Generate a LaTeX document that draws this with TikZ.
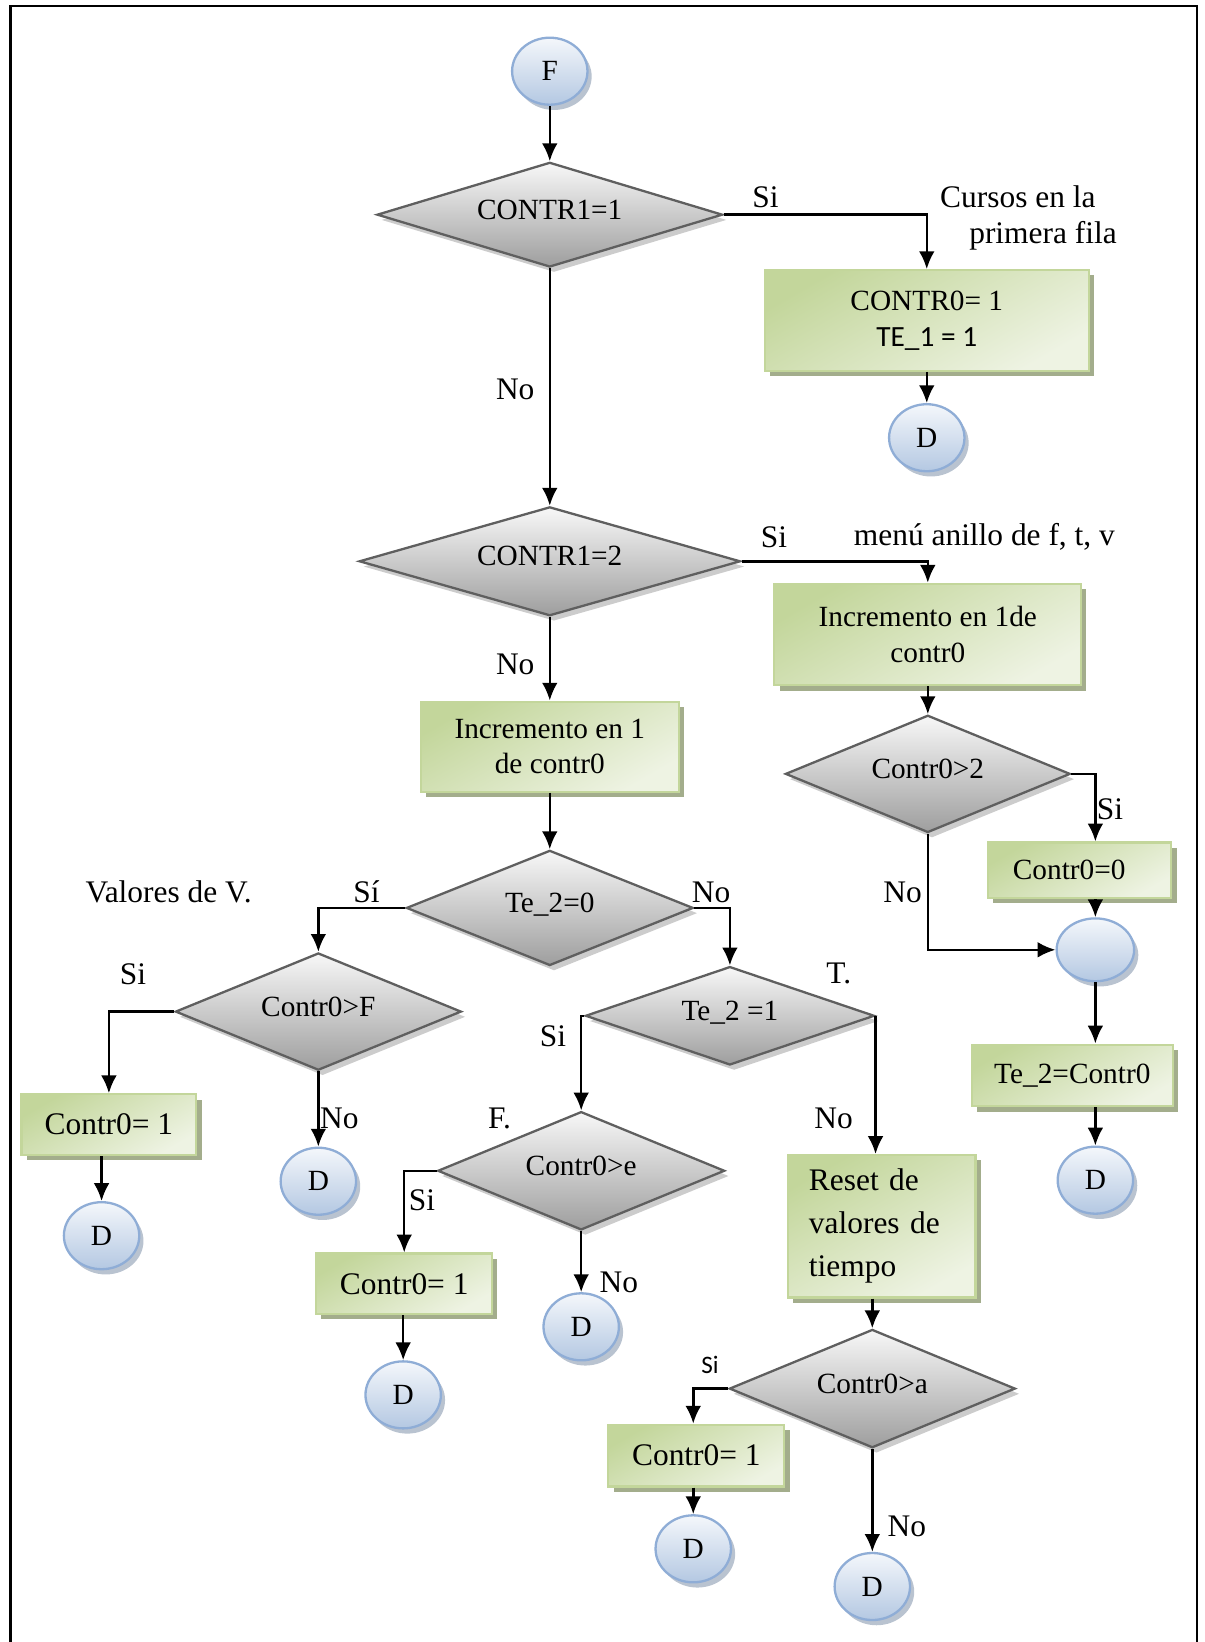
\documentclass[tikz,border=0pt]{standalone}
\usepackage{fontspec}
\setmainfont{Liberation Serif}
\newfontfamily\calib{Carlito}
\usetikzlibrary{shapes.geometric,shadows,arrows.meta}
\definecolor{rombo}{HTML}{5F5F5F}
\definecolor{verde}{HTML}{C3D69B}
\definecolor{verdeclaro}{HTML}{EEF3E3}
\definecolor{sombraverde}{HTML}{A3AD8C}
\definecolor{azul}{HTML}{B4C8E2}
\definecolor{azulclaro}{HTML}{F4F7FB}
\definecolor{azulborde}{HTML}{8FADD6}
\tikzset{
  decision/.style={diamond, draw=rombo, line width=1.1pt, top color=black!3, bottom color=black!38,
    inner sep=0pt, aspect=3, text depth=5pt, font=\fontsize{14}{16}\selectfont,
    drop shadow={shadow xshift=2pt, shadow yshift=-2.5pt, fill=black!25, opacity=.8}},
  caja/.style={rectangle, draw=verde, line width=1pt, top color=verde, bottom color=verdeclaro,
    shading angle=30, align=center, font=\fontsize{14}{17}\selectfont,
    drop shadow={shadow xshift=2.5pt, shadow yshift=-2.5pt, fill=sombraverde, opacity=1}},
  conector/.style={ellipse, draw=azulborde, line width=1.1pt, top color=azulclaro, bottom color=azul,
    minimum width=36pt, minimum height=32pt, inner sep=0pt, font=\fontsize{14}{16}\selectfont,
    drop shadow={shadow xshift=2pt, shadow yshift=-2.5pt, fill=azulborde!70!black, opacity=.45}},
  etiq/.style={inner sep=0pt, font=\fontsize{15}{18}\selectfont},
  flecha/.style={-{Latex[length=8.5pt, width=7.5pt]}, line width=1.2pt}
}
\begin{document}
\begin{tikzpicture}[x=0.5pt, y=-0.5pt]
\useasboundingbox (0,0) rectangle (1150,1568);
\draw[line width=1pt] (10,1568) -- (10,6) -- (1143,6) -- (1143,1568);

\node[conector] (F) at (525,68) {F};
\node[decision, minimum width=165pt, minimum height=50pt] (c1) at (525,205) {CONTR1=1};
\node[caja, minimum width=154.5pt, minimum height=48pt] (b1) at (885,306) {CONTR0= 1\\{\calib TE\_1 = 1}};
\node[conector] (d1) at (885,418) {D};
\node[decision, minimum width=182pt, minimum height=52pt] (c2) at (525,536) {CONTR1=2};
\node[caja, minimum width=146.5pt, minimum height=48.5pt] (b2) at (886,606) {Incremento en 1de\\contr0};
\node[decision, minimum width=136pt, minimum height=56pt] (c3) at (886,739) {Contr0>2};
\node[caja, minimum width=87.5pt, minimum height=26.5pt] (b3) at (1031,831) {Contr0=0\hspace{10pt}};
\node[conector, minimum width=37pt, minimum height=30pt] (j) at (1046,907) {};
\node[caja, minimum width=96pt, minimum height=29.5pt] (b4) at (1024,1027) {Te\_2=Contr0};
\node[conector] (d2) at (1046,1127) {D};
\node[caja, minimum width=123pt, minimum height=43pt] (b5) at (525,713) {Incremento en 1\\de contr0};
\node[decision, minimum width=137pt, minimum height=55pt] (c4) at (525,867) {Te\_2=0};
\node[decision, minimum width=136.5pt, minimum height=56pt] (c5) at (304,966) {Contr0>F};
\node[caja, minimum width=83.5pt, minimum height=29pt, font=\fontsize{15}{18}\selectfont] (b6) at (104,1074) {Contr0= 1};
\node[conector] (d3) at (97,1180) {D};
\node[conector] (d4) at (304,1128) {D};
\node[decision, minimum width=138pt, minimum height=47pt] (c6) at (697,970) {Te\_2 =1};
\node[decision, minimum width=137pt, minimum height=56.5pt] (c7) at (555,1118) {Contr0>e};
\node[caja, minimum width=84pt, minimum height=29pt, font=\fontsize{15}{18}\selectfont] (b7) at (386,1226) {Contr0= 1};
\node[conector] (d5) at (385,1332) {D};
\node[conector] (d6) at (555,1267) {D};
\node[caja, minimum width=89.5pt, minimum height=68pt, text width=69.5pt, inner xsep=10pt, align=left,
  font=\fontsize{15}{20.5}\selectfont] (b8) at (842,1171) {Reset de\\valores de\\tiempo};
\node[decision, minimum width=136.5pt, minimum height=56.5pt] (c8) at (833,1326) {Contr0>a};
\node[caja, minimum width=84pt, minimum height=29.5pt, font=\fontsize{15}{18}\selectfont] (b9) at (665,1390) {Contr0= 1};
\node[conector] (d7) at (662,1479) {D};
\node[conector] (d8) at (833,1515) {D};

\draw[flecha] (F) -- (c1);
\draw[flecha] (c1.east) -| (b1.north);
\draw[flecha] (b1) -- (d1);
\draw[flecha] (c1) -- (c2);
\draw[flecha] (c2.east) -| (b2.north);
\draw[flecha] (b2) -- (c3);
\draw[flecha] (c3.east) -| (b3.north -| j);
\draw[flecha] (b3.south -| j) -- (j);
\draw[flecha] (c3.south) |- (j.west);
\draw[flecha] (j) -- (b4.north -| j);
\draw[flecha] (b4.south -| d2) -- (d2);
\draw[flecha] (c2) -- (b5);
\draw[flecha] (b5) -- (c4);
\draw[flecha] (c4.west) -| (c5.north);
\draw[flecha] (c4.east) -| (c6.north);
\draw[flecha] (c5.west) -| (b6.north);
\draw[flecha] (b6.south -| d3) -- (d3);
\draw[flecha] (c5) -- (d4);
\draw[flecha] (c6.west) -| (c7.north);
\draw[flecha] (c6.east) -- (c6.east |- b8.north);
\draw[flecha] (c7.west) -| (b7.north);
\draw[flecha] (b7.south -| d5) -- (d5);
\draw[flecha] (c7) -- (d6);
\draw[flecha] (b8.south -| c8) -- (c8);
\draw[flecha] (c8.west) -| (b9.north -| d7);
\draw[flecha] (b9.south -| d7) -- (d7);
\draw[flecha] (c8) -- (d8);

\node[etiq] (si1) at (731,188) {Si};
\node[etiq] (cursos) at (972,188) {Cursos en la};
\node[etiq] (fila) at (996,225) {primera fila};
\node[etiq] (no1) at (492,372) {No};
\node[etiq] (si2) at (739,513) {Si};
\node[etiq] (menu) at (940,513) {menú anillo de f, t, v};
\node[etiq] (no2) at (492,634) {No};
\node[etiq] (si3) at (1060,773) {Si};
\node[etiq] (no3) at (862,852) {No};
\node[etiq] (valores) at (161,852) {Valores de V.};
\node[etiq] (si4) at (350,852) {Sí};
\node[etiq] (no4) at (679,852) {No};
\node[etiq] (si5) at (127,930) {Si};
\node[etiq] (tt) at (801,930) {T.};
\node[etiq] (si6) at (528,990) {Si};
\node[etiq] (no5) at (324,1068) {No};
\node[etiq] (ff) at (477,1068) {F.};
\node[etiq] (no6) at (796,1068) {No};
\node[etiq] (si7) at (403,1146) {Si};
\node[etiq] (no7) at (591,1225) {No};
\node[etiq, font=\calib\fontsize{12}{14}\selectfont] (si8) at (678,1303) {Si};
\node[etiq] (no8) at (866,1458) {No};
\end{tikzpicture}
\end{document}
